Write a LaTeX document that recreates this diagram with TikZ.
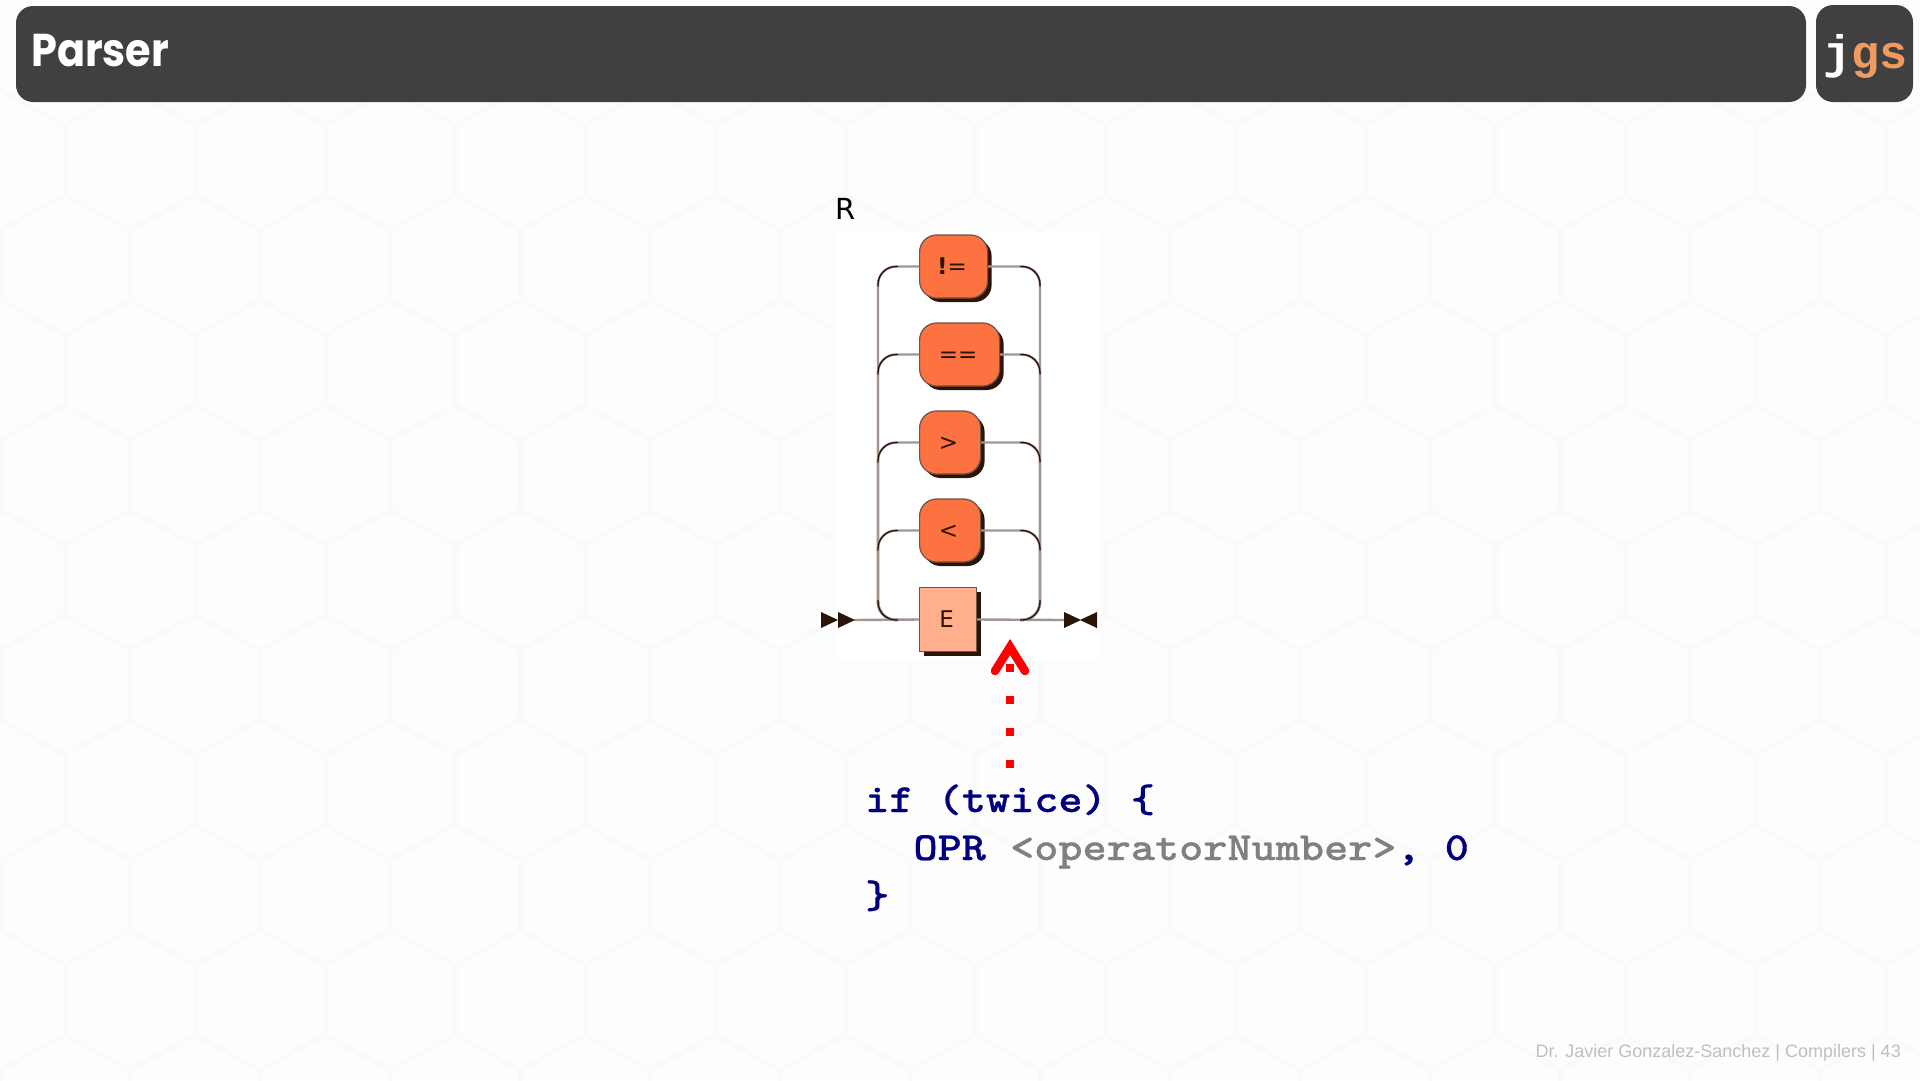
\documentclass[tikz,border=0pt]{standalone}
\usepackage{fontspec}
\usetikzlibrary{shadows,arrows.meta}
\setmainfont{Liberation Sans}
\newfontfamily\titlefont{Poppins}[FakeStretch=0.9]
\newfontfamily\dejafont{DejaVu Sans}
\newfontfamily\logofont{Liberation Mono}
\newfontfamily\codefont{Latin Modern Mono Light}[FakeStretch=1.15,FakeBold=0.5]
\definecolor{barc}{HTML}{404040}
\definecolor{opfill}{HTML}{FC7240}
\definecolor{termfill}{HTML}{FFAF8C}
\definecolor{shade}{HTML}{2B1408}
\definecolor{edge}{HTML}{6E5346}
\definecolor{railc}{HTML}{A0968F}
\definecolor{navyc}{HTML}{000080}
\definecolor{grayc}{HTML}{808080}
\definecolor{logoc}{HTML}{EE9A60}
\definecolor{pagec}{HTML}{FDFDFD}
\definecolor{cellc}{HTML}{FAFAFA}
\newcommand{\railtext}[1]{\raisebox{-7.5pt}[0pt][0pt]{\kern-3pt #1}}
\tikzset{
  bar/.style={fill=barc,draw=none,rounded corners=17pt,inner sep=0},
  railbox/.style={draw=edge,line width=1.2pt,text=shade,inner sep=0,minimum height=63pt,
     font=\dejafont\fontsize{23}{23}\selectfont,
     general shadow={shadow xshift=4pt,shadow yshift=-4pt,fill=shade}},
  opbox/.style={railbox,fill=opfill,rounded corners=17pt},
  termbox/.style={railbox,fill=termfill,minimum height=64pt},
  rail/.style={draw=railc,line width=2.4pt,rounded corners=18pt},
  corner/.style={draw=shade,line width=1.3pt,rounded corners=18pt},
  railhead/.style={fill=shade,draw=none},
  codeline/.style={anchor=base west,inner sep=0,font=\codefont\bfseries\fontsize{40}{40}\selectfont,text=navyc},
}
\begin{document}
\begin{tikzpicture}[x=1pt,y=-1pt]
\useasboundingbox (0,0) rectangle (1920,1080);
\fill[pagec] (0,0) rectangle (1920,1080);
% faint honeycomb texture of the slide background
\foreach \r in {0,...,9}{
  \foreach \c in {0,...,15}{
    \pgfmathsetmacro{\cx}{\c*130+mod(\r,2)*65}
    \pgfmathsetmacro{\cy}{160+\r*105}
    \draw[cellc,line width=4pt,line join=round]
      (\cx-65,\cy-35) -- (\cx,\cy-70) -- (\cx+65,\cy-35) -- (\cx+65,\cy+35) -- (\cx,\cy+70) -- (\cx-65,\cy+35) -- cycle;
  }
}
\fill[white] (835,232) rectangle (1100,660);
% header
\node[bar,minimum width=1790pt,minimum height=96pt] (titlebar) at (911,54) {};
\node[bar,minimum width=97pt,minimum height=97pt] (logobox) at (1864.5,53.5) {};
\node[anchor=base west,inner sep=0,text=white,font=\titlefont\bfseries\fontsize{46}{46}\selectfont] (title) at (31,66) {Parser};
\node[anchor=base west,inner sep=0,font=\logofont\bfseries\fontsize{47}{47}\selectfont] (logo) at (1823,68) {\textcolor{white}{j}\textcolor{logoc}{gs}};
% rule name
\node[anchor=base west,inner sep=0,font=\dejafont\fontsize{29}{29}\selectfont] (rname) at (835,219) {R};
% junctions
\coordinate (startc) at (854,620);
\coordinate (endc) at (1064,620);
\coordinate (jl) at (878,620);
\coordinate (jr) at (1040,620);
% boxes
\node[opbox,minimum width=68pt,anchor=west] (ne) at (919,266.5) {\railtext{{\bfseries !}=}};
\node[opbox,minimum width=80pt,anchor=west] (eq) at (919,354.5) {\railtext{==}};
\node[opbox,minimum width=61pt,anchor=west] (gt) at (919,442.5) {\railtext{>}};
\node[opbox,minimum width=61pt,anchor=west] (lt) at (919,530.5) {\railtext{<}};
\node[termbox,minimum width=57pt,anchor=west] (ee) at (919,619.5) {\kern-3pt E};
% rails
\draw[rail] (startc) -- (ee.west);
\draw[rail] (ee.east) -- (endc);
\foreach \n in {ne,eq,gt,lt}{
  \draw[rail] (\n.west) -| (jl) -- ++(20,0);
  \draw[rail] (\n.east) -| (jr) -- ++(-20,0);
  \draw[corner] (\n.west -| jl) ++(0,20) -- (\n.west -| jl) -- ++(20,0);
  \draw[corner] (\n.east -| jr) ++(0,20) -- (\n.east -| jr) -- ++(-20,0);
}
\draw[corner] (jl) ++(0,-20) -- (jl) -- ++(20,0);
\draw[corner] (jr) ++(0,-20) -- (jr) -- ++(-20,0);
% end marks
\fill[railhead] (821,612) -- (838,620) -- (821,628) -- cycle;
\fill[railhead] (838,612) -- (855,620) -- (838,628) -- cycle;
\fill[railhead] (1064,612) -- (1081,620) -- (1064,628) -- cycle;
\fill[railhead] (1097,612) -- (1080,620) -- (1097,628) -- cycle;
% pointer
\coordinate (ptip) at (1010,647);
\coordinate (pfoot) at (1010,772);
\draw[red,line width=8.5pt,line cap=round,line join=miter] (995,671) -- (ptip) -- (1025,671);
\draw[red,line width=8pt,dash pattern=on 8pt off 24pt] (1010,664) -- (pfoot);
% code
\node[codeline] (l1) at (865,812) {if (twice) \{};
\node[codeline] (l2) at (865,860) {\phantom{xx}OPR \textcolor{grayc}{<operatorNumber>}, 0};
\node[codeline] (l3) at (865,908) {\}};
% footer
\node[anchor=base east,inner sep=0,text=black!25,font=\fontsize{18}{18}\selectfont] (foot) at (1901,1057) {Dr. Javier Gonzalez-Sanchez | Compilers | 43};
\end{tikzpicture}
\end{document}
